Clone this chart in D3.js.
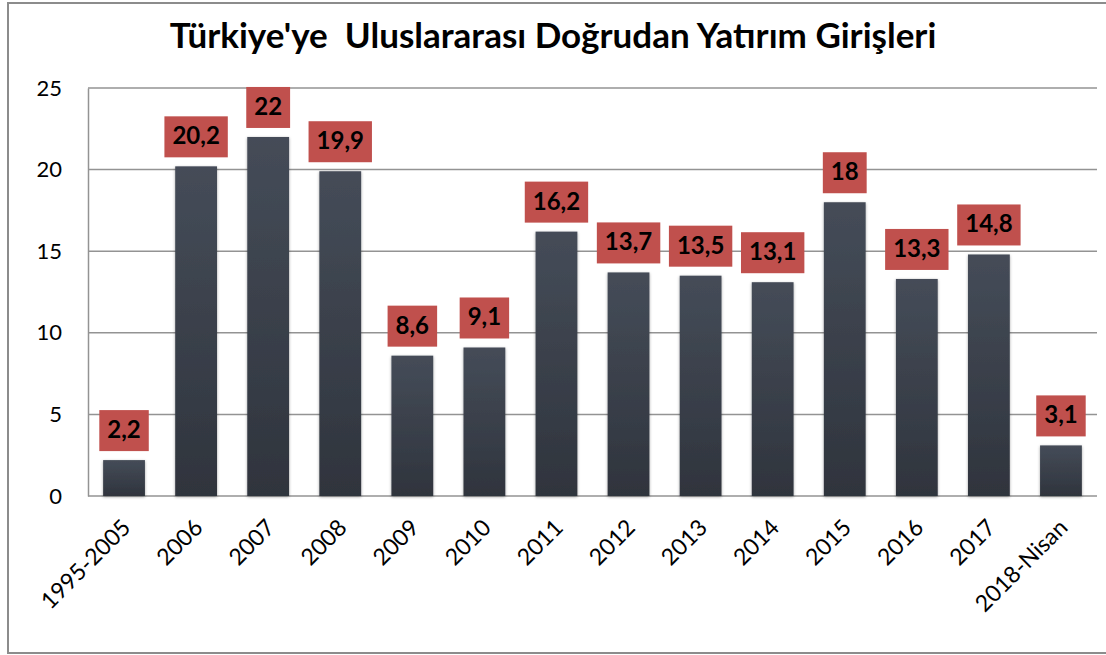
<!DOCTYPE html>
<html>
<head>
<meta charset="utf-8">
<script src="https://cdn.jsdelivr.net/npm/d3@7"></script>
<style>
  body { margin: 0; background: #fff; }
  text { font-family: Lato, "Open Sans", sans-serif; }
</style>
</head>
<body>
<script>
// chart data
let years = ["1995-2005", "2006", "2007", "2008", "2009", "2010", "2011", "2012", "2013", "2014", "2015", "2016", "2017", "2018-Nisan"];
let values = [2.2, 20.2, 22, 19.9, 8.6, 9.1, 16.2, 13.7, 13.5, 13.1, 18, 13.3, 14.8, 3.1];
let valueLabels = ["2,2", "20,2", "22", "19,9", "8,6", "9,1", "16,2", "13,7", "13,5", "13,1", "18", "13,3", "14,8", "3,1"];
let yTicks = [0, 5, 10, 15, 20, 25];
let title = "Türkiye'ye  Uluslararası Doğrudan Yatırım Girişleri";

let svgWidth = 1106;
let svgHeight = 655;

let chartMargin = { top: 88, right: 9, bottom: 159, left: 88 };
let chartWidth = svgWidth - chartMargin.left - chartMargin.right;
let chartHeight = svgHeight - chartMargin.top - chartMargin.bottom;

let svg = d3.select("body")
  .append("svg")
  .attr("width", svgWidth)
  .attr("height", svgHeight);

// bar gradient + soft shadow
let defs = svg.append("defs");
let grad = defs.append("linearGradient")
  .attr("id", "barGrad")
  .attr("x1", 0).attr("y1", 0).attr("x2", 0).attr("y2", 1);
grad.append("stop").attr("offset", "0%").attr("stop-color", "#454c58");
grad.append("stop").attr("offset", "100%").attr("stop-color", "#2f343d");

let shadow = defs.append("filter").attr("id", "shadow")
  .attr("x", "-20%").attr("y", "-20%").attr("width", "140%").attr("height", "140%");
shadow.append("feDropShadow")
  .attr("dx", 0).attr("dy", 1).attr("stdDeviation", 1.5)
  .attr("flood-color", "#000").attr("flood-opacity", 0.35);

// outer frame
svg.append("rect")
  .attr("x", 8).attr("y", 3)
  .attr("width", svgWidth + 10).attr("height", 650)
  .attr("fill", "none")
  .attr("stroke", "#8c8c8c")
  .attr("stroke-width", 2);

// title
svg.append("text")
  .attr("x", 553)
  .attr("y", 48)
  .attr("text-anchor", "middle")
  .style("font-size", "35px")
  .style("font-weight", "bold")
  .style("white-space", "pre")
  .attr("xml:space", "preserve")
  .text(title);

let chartGroup = svg.append("g")
  .attr("transform", `translate(${chartMargin.left}, ${chartMargin.top})`);

let xScale = d3.scaleBand()
  .domain(years)
  .range([0, chartWidth])
  .paddingInner(0.42)
  .paddingOuter(0.21);

let yScale = d3.scaleLinear()
  .domain([0, 25])
  .range([chartHeight, 0]);

// gridlines
chartGroup.append("g")
  .selectAll("line")
  .data(yTicks)
  .enter()
  .append("line")
  .attr("x1", 0)
  .attr("x2", chartWidth)
  .attr("y1", d => yScale(d))
  .attr("y2", d => yScale(d))
  .attr("stroke", "#939393")
  .attr("stroke-width", 1.5);

// y axis
let yAxis = d3.axisLeft(yScale).tickValues(yTicks).tickSize(0).tickPadding(26);
let yAxisG = chartGroup.append("g").call(yAxis);
yAxisG.select(".domain").attr("stroke", "#939393").attr("stroke-width", 1.5);
yAxisG.selectAll("text")
  .style("font-size", "22px")
  .style("font-family", "Lato, sans-serif")
  .attr("fill", "#000");

// x axis labels
let xAxis = d3.axisBottom(xScale).tickSize(0).tickPadding(0);
let xAxisG = chartGroup.append("g")
  .attr("transform", `translate(0, ${chartHeight})`)
  .call(xAxis);
xAxisG.select(".domain").remove();
xAxisG.selectAll("text")
  .style("font-size", "23px")
  .style("font-family", "Lato, sans-serif")
  .attr("fill", "#000")
  .attr("text-anchor", "end")
  .attr("dy", 0)
  .attr("transform", "translate(8, 33) rotate(-45)");

// bars
chartGroup.selectAll(".bar")
  .data(values)
  .enter()
  .append("rect")
  .classed("bar", true)
  .attr("x", (d, i) => xScale(years[i]))
  .attr("y", d => yScale(d))
  .attr("width", xScale.bandwidth())
  .attr("height", d => chartHeight - yScale(d))
  .attr("fill", "url(#barGrad)")
  .attr("filter", "url(#shadow)");

// value labels in red boxes
let labelGroups = chartGroup.selectAll(".vlabel")
  .data(values)
  .enter()
  .append("g")
  .classed("vlabel", true)
  .attr("transform", (d, i) => `translate(${xScale(years[i]) + xScale.bandwidth() / 2}, ${yScale(d) - 9})`);

labelGroups.append("text")
  .attr("text-anchor", "middle")
  .attr("y", -13)
  .style("font-size", "24px")
  .style("font-weight", "bold")
  .attr("fill", "#000")
  .text((d, i) => valueLabels[i])
  .each(function () {
    let bb = this.getBBox();
    let padX = 8;
    d3.select(this.parentNode).insert("rect", "text")
      .attr("x", bb.x - padX)
      .attr("y", -41)
      .attr("width", bb.width + padX * 2)
      .attr("height", 41)
      .attr("fill", "#c0504d");
  });
</script>
</body>
</html>
